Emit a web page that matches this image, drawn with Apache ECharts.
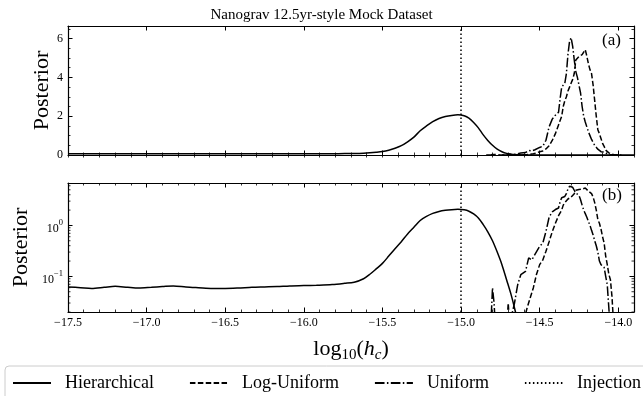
<!DOCTYPE html>
<html>
<head>
<meta charset="utf-8">
<script src="https://cdn.jsdelivr.net/npm/echarts@6/dist/echarts.min.js"></script>
<style>
  html, body { margin: 0; padding: 0; background: #ffffff; }
  #chart { width: 643px; height: 396px; }
</style>
</head>
<body>
<div id="chart"></div>
<script>
// Posterior densities of log10(h_c) for three prior choices, plus the injected value.
const SERIF = "'Liberation Serif', 'DejaVu Serif', 'Times New Roman', serif";

const X_MIN = -17.5;
const X_MAX = -13.9;
const X_TICKS = [-17.5, -17.0, -16.5, -16.0, -15.5, -15.0, -14.5, -14.0];
const LIN_MAX = 6.65;
const LIN_TICKS = [0, 2, 4, 6];
const LOG_MIN = 0.02;
const LOG_MAX = 6.8;
const LOG_MINOR = [0.02, 0.03, 0.04, 0.05, 0.06, 0.07, 0.08, 0.09,
                   0.2, 0.3, 0.4, 0.5, 0.6, 0.7, 0.8, 0.9,
                   2, 3, 4, 5, 6];

const injection = -15.0;

// [log10(h_c), posterior]
const hierarchical = [
  [-17.50, 0.062], [-17.42, 0.060], [-17.35, 0.058], [-17.27, 0.061], [-17.20, 0.064],
  [-17.12, 0.061], [-17.05, 0.059], [-16.97, 0.061], [-16.90, 0.063], [-16.83, 0.065],
  [-16.75, 0.062], [-16.67, 0.060], [-16.58, 0.058], [-16.50, 0.058], [-16.42, 0.059],
  [-16.33, 0.061], [-16.25, 0.062], [-16.17, 0.063], [-16.09, 0.065], [-16.00, 0.066],
  [-15.92, 0.067], [-15.82, 0.069], [-15.74, 0.073], [-15.68, 0.077], [-15.62, 0.090],
  [-15.58, 0.110], [-15.54, 0.140], [-15.50, 0.180], [-15.46, 0.250], [-15.42, 0.350],
  [-15.38, 0.480], [-15.34, 0.680], [-15.30, 0.920], [-15.26, 1.250], [-15.22, 1.500],
  [-15.18, 1.720], [-15.14, 1.880], [-15.10, 1.980], [-15.06, 2.040], [-15.02, 2.070],
  [-14.98, 2.020], [-14.95, 1.900], [-14.92, 1.680], [-14.89, 1.400], [-14.86, 1.050],
  [-14.83, 0.750], [-14.80, 0.500], [-14.77, 0.300], [-14.74, 0.170], [-14.71, 0.085],
  [-14.68, 0.042], [-14.66, 0.024], [-14.63, 0.010], [-14.58, 0.003], [-14.50, 0.001],
  [-14.20, 0.0006], [-13.90, 0.0005]
];

const logUniform = [
  [-14.76, 0.002], [-14.72, 0.003], [-14.70, 0.030], [-14.69, 0.010], [-14.66, 0.005],
  [-14.62, 0.008], [-14.58, 0.024], [-14.56, 0.038], [-14.54, 0.060], [-14.52, 0.110],
  [-14.50, 0.170], [-14.48, 0.210], [-14.46, 0.310], [-14.44, 0.480], [-14.42, 0.750],
  [-14.40, 1.100], [-14.38, 1.550], [-14.37, 1.650], [-14.36, 2.000], [-14.35, 2.500],
  [-14.34, 2.800], [-14.33, 3.000], [-14.32, 3.300], [-14.31, 3.500], [-14.30, 3.600],
  [-14.29, 3.900], [-14.28, 4.200], [-14.27, 4.900], [-14.26, 5.000], [-14.25, 5.080],
  [-14.24, 5.000], [-14.23, 5.170], [-14.22, 5.300], [-14.21, 5.430], [-14.20, 5.100],
  [-14.19, 4.700], [-14.18, 4.400], [-14.17, 4.200], [-14.16, 3.600], [-14.15, 2.800],
  [-14.14, 2.000], [-14.13, 1.300], [-14.12, 1.100], [-14.11, 0.850], [-14.10, 0.600],
  [-14.09, 0.450], [-14.08, 0.250], [-14.07, 0.170], [-14.06, 0.110], [-14.05, 0.086],
  [-14.04, 0.040], [-14.03, 0.012], [-14.02, 0.003], [-13.98, 0.001]
];

const uniform = [
  [-14.84, 0.001], [-14.81, 0.012], [-14.80, 0.060], [-14.79, 0.030], [-14.78, 0.008],
  [-14.76, 0.002], [-14.72, 0.004], [-14.69, 0.012], [-14.66, 0.030], [-14.64, 0.068],
  [-14.62, 0.108], [-14.59, 0.125], [-14.57, 0.230], [-14.55, 0.210], [-14.53, 0.270],
  [-14.50, 0.390], [-14.48, 0.450], [-14.46, 0.760], [-14.44, 1.450], [-14.42, 1.850],
  [-14.40, 2.050], [-14.38, 2.200], [-14.37, 2.900], [-14.36, 3.500], [-14.35, 3.550],
  [-14.34, 3.700], [-14.33, 4.200], [-14.32, 5.200], [-14.31, 5.850], [-14.30, 6.050],
  [-14.29, 5.600], [-14.28, 4.900], [-14.27, 4.300], [-14.26, 4.000], [-14.25, 3.900],
  [-14.24, 3.200], [-14.23, 2.500], [-14.22, 2.000], [-14.21, 1.700], [-14.20, 1.450],
  [-14.19, 1.200], [-14.18, 1.000], [-14.17, 0.800], [-14.16, 0.650], [-14.15, 0.500],
  [-14.14, 0.400], [-14.13, 0.300], [-14.12, 0.200], [-14.11, 0.170], [-14.10, 0.160],
  [-14.09, 0.150], [-14.08, 0.100], [-14.07, 0.068], [-14.06, 0.024], [-14.05, 0.008],
  [-14.04, 0.002], [-14.00, 0.001]
];

const BLACK = '#000000';
const FRAME = { show: true, onZero: false, lineStyle: { color: BLACK, width: 1.2 } };
const MAJOR_TICK = { show: true, inside: true, length: 4.5, lineStyle: { color: BLACK, width: 1 } };
const MINOR_TICK = { show: true, inside: true, length: 2.5, lineStyle: { color: BLACK, width: 0.8 } };
const NO_LABEL = { show: false };

const PANEL_LEFT = 68, PANEL_WIDTH = 566;
const TOP_PANEL = { top: 26, height: 129 };
const BOTTOM_PANEL = { top: 183, height: 129 };

function gridAt(p) {
  return { left: PANEL_LEFT, width: PANEL_WIDTH, top: p.top, height: p.height,
           containLabel: false, outerBoundsMode: 'none', show: false };
}

function fmtX(v) {
  const isMajor = X_TICKS.some(t => Math.abs(t - v) < 1e-6);
  if (!isMajor) return '';
  return (v < 0 ? '\u2212' : '') + Math.abs(v).toFixed(1);
}

function fmtLog(v) {
  const e = Math.log10(v);
  if (Math.abs(e - Math.round(e)) > 1e-6) return '';
  const k = Math.round(e);
  return '{b|10}{s|' + (k < 0 ? '\u2212' + (-k) : String(k)) + '}';
}

const tickFont = { fontFamily: SERIF, fontSize: 12, color: BLACK };

// x axes: 0/1 top panel major, 2/3 top panel minor, 4/5 bottom panel major, 6/7 bottom panel minor
function xPair(gridIndex, interval, tick, labelled) {
  const base = { type: 'value', gridIndex, min: X_MIN, max: X_MAX, interval,
                 splitLine: { show: false }, minorTick: { show: false } };
  const bottom = Object.assign({}, base, {
    position: 'bottom',
    axisLine: interval === 0.5 ? FRAME : { show: false },
    axisTick: tick,
    axisLabel: labelled
      ? Object.assign({ show: true, margin: 5, formatter: fmtX, hideOverlap: false }, tickFont)
      : NO_LABEL
  });
  if (labelled) {
    Object.assign(bottom, {
      name: '{a|log}{sub|10}{a|(}{it|h}{subit|c}{a|)}',
      nameLocation: 'middle',
      nameGap: 26,
      nameMoveOverlap: false,
      nameTextStyle: {
        color: BLACK,
        rich: {
          a: { fontFamily: SERIF, fontSize: 22, lineHeight: 24, verticalAlign: 'top', color: BLACK },
          it: { fontFamily: SERIF, fontSize: 22, lineHeight: 24, verticalAlign: 'top', fontStyle: 'italic', color: BLACK },
          sub: { fontFamily: SERIF, fontSize: 15, lineHeight: 16, padding: [10, 0, 0, 0], verticalAlign: 'top', color: BLACK },
          subit: { fontFamily: SERIF, fontSize: 15, lineHeight: 16, padding: [10, 0, 0, 0], verticalAlign: 'top', fontStyle: 'italic', color: BLACK }
        }
      }
    });
  }
  const top = Object.assign({}, base, {
    position: 'top',
    axisLine: interval === 0.5 ? FRAME : { show: false },
    axisTick: tick,
    axisLabel: NO_LABEL
  });
  return [bottom, top];
}

const xAxes = [].concat(
  xPair(0, 0.5, MAJOR_TICK, false),
  xPair(1, 0.1, MINOR_TICK, false),
  xPair(2, 0.5, MAJOR_TICK, true),
  xPair(3, 0.1, MINOR_TICK, false)
);

// y axes: 0/1 linear major, 2/3 linear minor, 4/5 log, 6 placeholder for the minor-tick grid
function linY(gridIndex, interval, tick, position, labelled, withLine) {
  return {
    type: 'value', gridIndex, position, min: 0, max: LIN_MAX, interval,
    splitLine: { show: false },
    axisLine: withLine ? FRAME : { show: false },
    axisTick: tick,
    axisLabel: labelled
      ? Object.assign({
          show: true, margin: 5,
          formatter: v => (LIN_TICKS.indexOf(Math.round(v * 1000) / 1000) >= 0 ? String(Math.round(v)) : '')
        }, tickFont)
      : NO_LABEL,
    name: labelled ? 'Posterior' : '',
    nameLocation: 'middle',
    nameGap: 15,
    nameMoveOverlap: false,
    nameTextStyle: { fontFamily: SERIF, fontSize: 22, color: BLACK }
  };
}

function logY(position, labelled) {
  return {
    type: 'log', logBase: 10, gridIndex: 2, position, min: LOG_MIN, max: LOG_MAX,
    splitLine: { show: false },
    minorTick: { show: false },
    axisLine: FRAME,
    axisTick: MAJOR_TICK,
    axisLabel: labelled
      ? {
          show: true, margin: 5, formatter: fmtLog, showMinLabel: false, showMaxLabel: false,
          rich: {
            b: { fontFamily: SERIF, fontSize: 12, color: BLACK, lineHeight: 14, padding: [4, 0, 0, 0], verticalAlign: 'top' },
            s: { fontFamily: SERIF, fontSize: 8.5, color: BLACK, lineHeight: 10, verticalAlign: 'top' }
          }
        }
      : NO_LABEL,
    name: labelled ? 'Posterior' : '',
    nameLocation: 'middle',
    nameGap: 36,
    nameMoveOverlap: false,
    nameTextStyle: { fontFamily: SERIF, fontSize: 22, color: BLACK }
  };
}

const yAxes = [
  linY(0, 2, MAJOR_TICK, 'left', true, true),
  linY(0, 2, MAJOR_TICK, 'right', false, true),
  linY(1, 0.5, MINOR_TICK, 'left', false, false),
  linY(1, 0.5, MINOR_TICK, 'right', false, false),
  logY('left', true),
  logY('right', false),
  { type: 'value', gridIndex: 3, min: 0, max: 1, show: false }
];

const dashed = [5.5, 2.4];
const dashDot = [9.6, 2.4, 1.5, 2.4];
const dotted = [1.5, 2.5];

function curveSeries(name, data, xi, yi, dash, smooth) {
  return {
    type: 'line', name, data, xAxisIndex: xi, yAxisIndex: yi,
    symbol: 'circle', symbolSize: 0, showSymbol: false,
    smooth: smooth, silent: true, animation: false, clip: true,
    lineStyle: { color: BLACK, width: 1.5, type: dash },
    itemStyle: { color: BLACK }
  };
}

function injectionSeries(xi, yi) {
  return {
    type: 'line', name: 'Injection', data: [], xAxisIndex: xi, yAxisIndex: yi,
    symbol: 'circle', symbolSize: 0, showSymbol: false, animation: false,
    lineStyle: { color: BLACK, width: 1.5, type: dotted },
    itemStyle: { color: BLACK },
    markLine: {
      silent: true, symbol: 'none', animation: false,
      label: { show: false },
      lineStyle: { color: BLACK, width: 1.5, type: dotted },
      data: [{ xAxis: injection }]
    }
  };
}

// Minor decade ticks for the log panel, drawn on both vertical edges.
const logMinorTickSeries = {
  type: 'custom', name: 'logMinor', xAxisIndex: 4, yAxisIndex: 4, silent: true, animation: false,
  clip: false,
  data: LOG_MINOR.map(v => [X_MIN, v]),
  renderItem: function (params, api) {
    const v = api.value(1);
    const l = api.coord([X_MIN, v]);
    const r = api.coord([X_MAX, v]);
    const st = { stroke: BLACK, lineWidth: 0.8 };
    return {
      type: 'group',
      children: [
        { type: 'line', shape: { x1: l[0], y1: l[1], x2: l[0] + 2.5, y2: l[1] }, style: st },
        { type: 'line', shape: { x1: r[0] - 2.5, y1: r[1], x2: r[0], y2: r[1] }, style: st }
      ]
    };
  }
};

const chart = echarts.init(document.getElementById('chart'), null, { renderer: 'canvas' });

chart.setOption({
  backgroundColor: '#ffffff',
  animation: false,
  title: {
    text: 'Nanograv 12.5yr-style Mock Dataset',
    left: 'center',
    top: 3,
    textStyle: { fontFamily: SERIF, fontSize: 15, fontWeight: 'normal', color: BLACK }
  },
  grid: [gridAt(TOP_PANEL), gridAt(TOP_PANEL), gridAt(BOTTOM_PANEL), gridAt(BOTTOM_PANEL)],
  xAxis: xAxes,
  yAxis: yAxes,
  legend: {
    data: ['Hierarchical', 'Log-Uniform', 'Uniform', 'Injection'],
    left: 5,
    top: 366,
    width: 720,
    orient: 'horizontal',
    selectedMode: false,
    itemWidth: 38,
    itemHeight: 12,
    itemGap: 35,
    padding: [8, 7, 8, 7],
    borderColor: '#cccccc',
    borderWidth: 1,
    borderRadius: 4,
    backgroundColor: '#ffffff',
    itemStyle: { opacity: 0 },
    textStyle: { fontFamily: SERIF, fontSize: 18, color: BLACK, padding: [0, 0, 0, 9] }
  },
  graphic: [
    { type: 'text', left: 602, top: 32, silent: true,
      style: { text: '(a)', font: '17px ' + SERIF, fill: BLACK } },
    { type: 'text', left: 602, top: 187, silent: true,
      style: { text: '(b)', font: '17px ' + SERIF, fill: BLACK } }
  ],
  series: [
    curveSeries('Hierarchical', hierarchical, 0, 0, 'solid', 0.3),
    curveSeries('Log-Uniform', logUniform, 0, 0, dashed, false),
    curveSeries('Uniform', uniform, 0, 0, dashDot, false),
    injectionSeries(0, 0),
    curveSeries('Hierarchical', hierarchical, 4, 4, 'solid', 0.3),
    curveSeries('Log-Uniform', logUniform, 4, 4, dashed, false),
    curveSeries('Uniform', uniform, 4, 4, dashDot, false),
    injectionSeries(4, 4),
    logMinorTickSeries
  ]
});
</script>
</body>
</html>
